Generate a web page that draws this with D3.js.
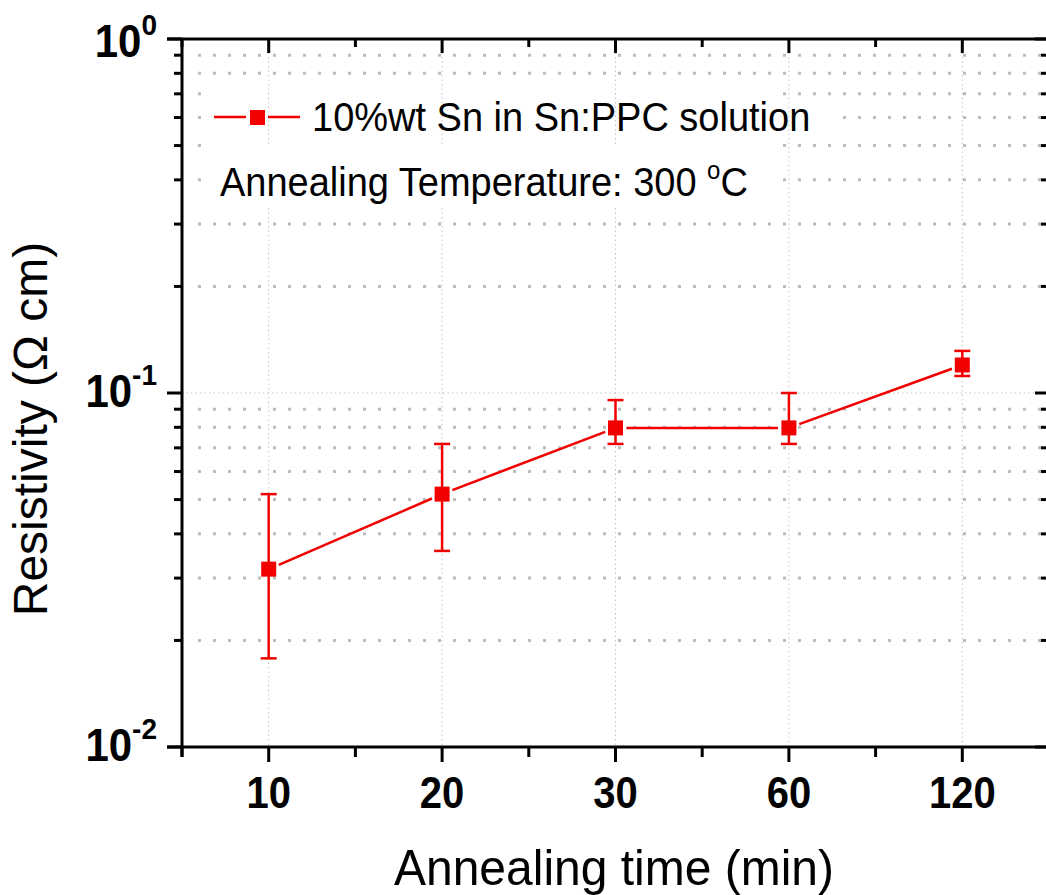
<!DOCTYPE html>
<html>
<head>
<meta charset="utf-8">
<script src="https://cdn.jsdelivr.net/npm/d3@7"></script>
<style>
  html, body { margin: 0; padding: 0; background: #fff; }
  svg { display: block; }
  text { font-family: Arial, "Liberation Sans", sans-serif; }
</style>
</head>
<body>
<svg id="chart" width="1046" height="895"></svg>
<script>
// ---- data ----
const categories = ["10", "20", "30", "60", "120"];
const resistivity = [0.0318, 0.0518, 0.0797, 0.0797, 0.120];
const errLow  = [0.0178, 0.0358, 0.0718, 0.0718, 0.1117];
const errHigh = [0.0518, 0.0718, 0.0955, 0.1000, 0.1315];
const yMajorTicks = [0.01, 0.1, 1];
const yTickExponents = ["-2", "-1", "0"];
const seriesLabel = "10%wt Sn in Sn:PPC solution";
const noteLabel = "Annealing Temperature: 300 ";
const xTitle = "Annealing time (min)";
const yTitle = "Resistivity (\u03A9 cm)";

// ---- layout ----
const L = 182, R = 1049, T = 39, B = 747;
const red = "#f20000";
const svg = d3.select("#chart");

const x = d3.scalePoint().domain(categories).range([L, R]).padding(0.5);
const y = d3.scaleLog().domain([0.01, 1]).range([B, T]);
const step = x.step();

const yMinor = [];
[0.01, 0.1].forEach(d => { for (let k = 2; k <= 9; k++) yMinor.push(d * k); });
const xMinor = [];
for (let i = 0; i <= categories.length; i++) xMinor.push(x(categories[0]) - step / 2 + i * step);

// ---- grid ----
const grid = svg.append("g");
grid.selectAll(".gminor").data(yMinor).enter().append("line")
  .attr("x1", L + 16).attr("x2", R).attr("y1", d => y(d)).attr("y2", d => y(d))
  .attr("stroke", "#bcbcbc").attr("stroke-width", 3).attr("stroke-dasharray", "3,12");
// legend background
grid.append("rect").attr("x", 203).attr("y", 84).attr("width", 575).attr("height", 124).attr("fill", "#fff");
grid.append("rect").attr("x", 700).attr("y", 100).attr("width", 135).attr("height", 34).attr("fill", "#fff");
// vertical major grid (interrupted behind the note text)
const noteTop = 147, noteBot = 208;
categories.forEach(c => {
  const cx = x(c);
  const parts = (cx > 203 && cx < 778) ? [[T, noteTop], [noteBot, B]] : [[T, B]];
  parts.forEach(p => grid.append("line")
    .attr("x1", cx).attr("x2", cx).attr("y1", p[0]).attr("y2", p[1])
    .attr("stroke", "#c4c4c4").attr("stroke-width", 1).attr("stroke-dasharray", "1.5,3"));
});
grid.append("line")
  .attr("x1", L).attr("x2", R).attr("y1", y(0.1)).attr("y2", y(0.1))
  .attr("stroke", "#c4c4c4").attr("stroke-width", 1).attr("stroke-dasharray", "1.5,3");

// ---- axes ----
const ax = svg.append("g").attr("stroke", "#000").attr("stroke-width", 3);
ax.append("line").attr("x1", L - 15).attr("x2", R + 3).attr("y1", B).attr("y2", B);
ax.append("line").attr("x1", L - 15).attr("x2", R + 3).attr("y1", T).attr("y2", T);
ax.append("line").attr("x1", L).attr("x2", L).attr("y1", T).attr("y2", B + 10);
ax.append("line").attr("x1", R).attr("x2", R).attr("y1", T).attr("y2", B);
ax.selectAll(".lmin").data(yMinor).enter().append("line")
  .attr("x1", L - 8).attr("x2", L).attr("y1", d => y(d)).attr("y2", d => y(d));
ax.selectAll(".lmaj").data(yMajorTicks).enter().append("line")
  .attr("x1", L - 15).attr("x2", L).attr("y1", d => y(d)).attr("y2", d => y(d));
ax.selectAll(".rmin").data(yMinor).enter().append("line")
  .attr("x1", R - 8).attr("x2", R).attr("y1", d => y(d)).attr("y2", d => y(d));
ax.selectAll(".rmaj").data(yMajorTicks).enter().append("line")
  .attr("x1", R - 14).attr("x2", R).attr("y1", d => y(d)).attr("y2", d => y(d));
ax.selectAll(".bmaj").data(categories).enter().append("line")
  .attr("x1", d => x(d)).attr("x2", d => x(d)).attr("y1", B).attr("y2", B + 15);
ax.selectAll(".bmin").data(xMinor).enter().append("line")
  .attr("x1", d => d).attr("x2", d => d).attr("y1", B).attr("y2", B + 10);
ax.selectAll(".tmaj").data(categories).enter().append("line")
  .attr("x1", d => x(d)).attr("x2", d => x(d)).attr("y1", T).attr("y2", T + 14);
ax.selectAll(".tmin").data(xMinor).enter().append("line")
  .attr("x1", d => d).attr("x2", d => d).attr("y1", T).attr("y2", T + 8);

// ---- tick labels ----
svg.selectAll(".xl").data(categories).enter().append("text")
  .attr("transform", d => `translate(${x(d)},808) scale(1,1.1)`)
  .attr("text-anchor", "middle").attr("font-size", 40).attr("font-weight", "bold")
  .text(d => d);

const yl = svg.selectAll(".yl").data(yMajorTicks).enter().append("text")
  .attr("transform", (d, i) => `translate(157,${y(d) + 14 + (i === 2 ? 4 : 0)}) scale(1,1.08)`)
  .attr("text-anchor", "end").attr("font-size", 42).attr("font-weight", "bold");
yl.append("tspan").text("10");
yl.append("tspan").attr("font-size", 28).attr("dy", -20).text((d, i) => yTickExponents[i]);

// ---- titles ----
svg.append("text").attr("transform", "translate(614,885) scale(1,1.04)").attr("text-anchor", "middle")
  .attr("font-size", 48).text(xTitle);
svg.append("text").attr("transform", "translate(47,429) rotate(-90)")
  .attr("text-anchor", "middle").attr("font-size", 48).text(yTitle);

// ---- data series ----
const pts = categories.map((c, i) => ({ cx: x(c), cy: y(resistivity[i]), lo: y(errLow[i]), hi: y(errHigh[i]) }));
const gap = 11;
const segs = [];
for (let i = 0; i < pts.length - 1; i++) {
  const a = pts[i], b = pts[i + 1];
  const dx = b.cx - a.cx, dy = b.cy - a.cy, len = Math.hypot(dx, dy);
  const ux = dx / len, uy = dy / len;
  segs.push([a.cx + ux * gap, a.cy + uy * gap, b.cx - ux * gap, b.cy - uy * gap]);
}
const s = svg.append("g");
s.selectAll(".seg").data(segs).enter().append("line")
  .attr("x1", d => d[0]).attr("y1", d => d[1]).attr("x2", d => d[2]).attr("y2", d => d[3])
  .attr("stroke", red).attr("stroke-width", 2.5);
s.selectAll(".eb").data(pts).enter().append("line")
  .attr("x1", d => d.cx).attr("x2", d => d.cx).attr("y1", d => d.lo).attr("y2", d => d.hi)
  .attr("stroke", red).attr("stroke-width", 2.5);
s.selectAll(".ebh").data(pts).enter().append("line")
  .attr("x1", d => d.cx - 8).attr("x2", d => d.cx + 8).attr("y1", d => d.hi).attr("y2", d => d.hi)
  .attr("stroke", red).attr("stroke-width", 2.5);
s.selectAll(".ebl").data(pts).enter().append("line")
  .attr("x1", d => d.cx - 8).attr("x2", d => d.cx + 8).attr("y1", d => d.lo).attr("y2", d => d.lo)
  .attr("stroke", red).attr("stroke-width", 2.5);
s.selectAll(".mk").data(pts).enter().append("rect")
  .attr("x", d => d.cx - 7.5).attr("y", d => d.cy - 7.5).attr("width", 15).attr("height", 15)
  .attr("fill", red);

// ---- legend ----
const lg = svg.append("g");
lg.append("line").attr("x1", 214).attr("x2", 246).attr("y1", 117).attr("y2", 117).attr("stroke", red).attr("stroke-width", 2.5);
lg.append("line").attr("x1", 268).attr("x2", 300).attr("y1", 117).attr("y2", 117).attr("stroke", red).attr("stroke-width", 2.5);
lg.append("rect").attr("x", 250).attr("y", 110).attr("width", 15).attr("height", 15).attr("fill", red);
lg.append("text").attr("transform", "translate(312,131) scale(1,1.06)").attr("font-size", 38).text(seriesLabel);
const note = lg.append("text").attr("transform", "translate(220,196) scale(1,1.06)").attr("font-size", 38);
note.append("tspan").text(noteLabel);
note.append("tspan").attr("font-size", 24).attr("dy", -16).text("o");
note.append("tspan").attr("dy", 16).text("C");
</script>
</body>
</html>
